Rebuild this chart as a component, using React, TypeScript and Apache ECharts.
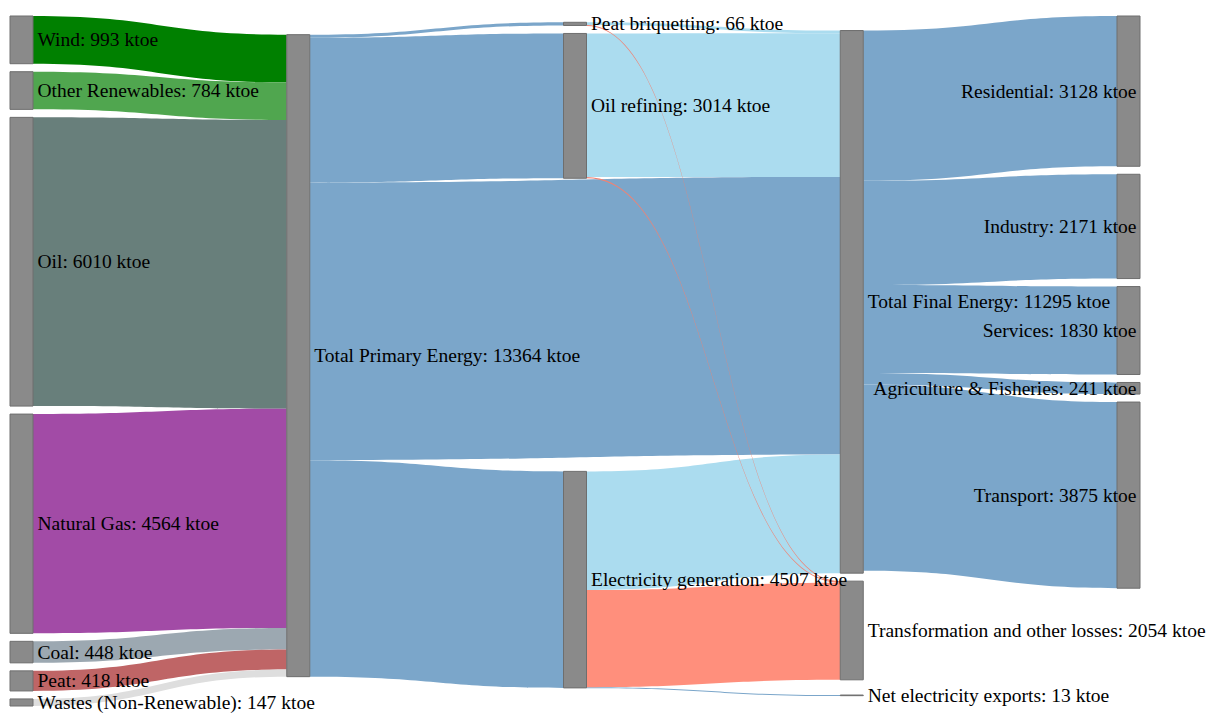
import React, { useEffect, useRef } from "react";
import * as echarts from "echarts";

// ---------------- data ----------------
const nodeNames = [
  "Wind",
  "Other Renewables",
  "Oil",
  "Natural Gas",
  "Coal",
  "Peat",
  "Wastes (Non-Renewable)",
  "Total Primary Energy",
  "Peat briquetting",
  "Oil refining",
  "Electricity generation",
  "Total Final Energy",
  "Transformation and other losses",
  "Net electricity exports",
  "Residential",
  "Industry",
  "Services",
  "Agriculture & Fisheries",
  "Transport",
];
const nodeValues = [993, 784, 6010, 4564, 448, 418, 147, 13364, 66, 3014, 4507, 11295, 2054, 13, 3128, 2171, 1830, 241, 3875];

const linkSources = [
  "Wind", "Other Renewables", "Oil", "Natural Gas", "Coal", "Peat", "Wastes (Non-Renewable)",
  "Total Primary Energy", "Total Primary Energy", "Total Primary Energy", "Total Primary Energy",
  "Peat briquetting", "Oil refining", "Electricity generation", "Electricity generation",
  "Total Final Energy", "Total Final Energy", "Total Final Energy", "Total Final Energy", "Total Final Energy",
  "Electricity generation", "Peat briquetting", "Oil refining",
];
const linkTargets = [
  "Total Primary Energy", "Total Primary Energy", "Total Primary Energy", "Total Primary Energy",
  "Total Primary Energy", "Total Primary Energy", "Total Primary Energy",
  "Peat briquetting", "Oil refining", "Total Final Energy", "Electricity generation",
  "Total Final Energy", "Total Final Energy", "Total Final Energy", "Net electricity exports",
  "Residential", "Industry", "Services", "Agriculture & Fisheries", "Transport",
  "Transformation and other losses", "Transformation and other losses", "Transformation and other losses",
];
const linkValues = [
  993, 784, 6010, 4564, 448, 418, 147,
  66, 3014, 5777, 4507,
  57, 2990, 2471, 13,
  3128, 2171, 1830, 241, 3875,
  2021, 9, 24,
];
const unit = "ktoe";

// ---------------- styles ----------------
const fuelColors: Record<string, string> = {
  Wind: "#008000",
  "Other Renewables": "#50a64f",
  Oil: "#687f7b",
  "Natural Gas": "#a24ba6",
  Coal: "#9ca8b1",
  Peat: "#bf6566",
  "Wastes (Non-Renewable)": "#dedede",
};
const steelBlue = "#7ba6ca";
const lightBlue = "#abdcef";
const lossRed = "#ff8f7c";
const thinLossRed = "#f08273";
const transformNodes = ["Peat briquetting", "Oil refining", "Electricity generation"];

function linkColor(s: string, t: string, v: number): string {
  if (fuelColors[s]) return fuelColors[s];
  if (t === "Transformation and other losses") return v < 100 ? thinLossRed : lossRed;
  if (transformNodes.includes(s) && t === "Total Final Energy") return lightBlue;
  return steelBlue;
}

// layout frame
const X0 = 10;
const X1 = 1140;
const Y0 = 16;
const Y1 = 706;
const NODE_W = 23;
const PAD = 8;
const ITER = 32;

// ---------------- sankey relaxation (node order kept, bands ordered by neighbour centre) ----------------
interface LNode {
  name: string; index: number; value: number; depth: number; layer: number;
  y0: number; y1: number; sourceLinks: LLink[]; targetLinks: LLink[];
}
interface LLink { source: LNode; target: LNode; value: number; width: number; index: number; }

function computeLayout() {
  const nodes: LNode[] = nodeNames.map((name, index) => ({
    name, index, value: 0, depth: 0, layer: 0, y0: NaN, y1: NaN, sourceLinks: [], targetLinks: [],
  }));
  const byName = new Map<string, LNode>();
  nodes.forEach((n) => byName.set(n.name, n));
  linkSources.forEach((s, index) => {
    const source = byName.get(s)!;
    const target = byName.get(linkTargets[index])!;
    const l: LLink = { source, target, value: linkValues[index], width: 0, index };
    source.sourceLinks.push(l);
    target.targetLinks.push(l);
  });
  const sumL = (ls: LLink[]) => ls.reduce((a, l) => a + l.value, 0);
  nodes.forEach((n) => {
    n.value = Math.max(sumL(n.sourceLinks), sumL(n.targetLinks), nodeValues[n.index]);
  });
  let current = new Set<LNode>(nodes);
  let x = 0;
  while (current.size && x <= nodes.length) {
    const next = new Set<LNode>();
    current.forEach((n) => {
      n.depth = x;
      n.sourceLinks.forEach((l) => next.add(l.target));
    });
    x++;
    current = next;
  }
  const nLayers = Math.max(...nodes.map((n) => n.depth)) + 1;
  const columns: LNode[][] = Array.from({ length: nLayers }, () => [] as LNode[]);
  nodes.forEach((n) => {
    n.layer = n.depth;
    columns[n.layer].push(n);
  });
  const py = Math.min(PAD, (Y1 - Y0) / (Math.max(...columns.map((c) => c.length)) - 1));
  const ky = Math.min(
    ...columns.map((c) => (Y1 - Y0 - (c.length - 1) * py) / c.reduce((a, n) => a + n.value, 0))
  );
  const mid = (n: LNode) => (n.y0 + n.y1) / 2;
  const ascSrc = (a: LLink, b: LLink) => mid(a.source) - mid(b.source) || a.index - b.index;
  const ascTgt = (a: LLink, b: LLink) => mid(a.target) - mid(b.target) || a.index - b.index;

  for (const col of columns) {
    let y = Y0;
    for (const n of col) {
      n.y0 = y;
      n.y1 = y + n.value * ky;
      y = n.y1 + py;
      n.sourceLinks.forEach((l) => (l.width = l.value * ky));
    }
    y = (Y1 - y + py) / (col.length + 1);
    col.forEach((n, i) => {
      n.y0 += y * (i + 1);
      n.y1 += y * (i + 1);
    });
  }
  const reorderAll = () => {
    nodes.forEach((n) => {
      n.sourceLinks.sort(ascTgt);
      n.targetLinks.sort(ascSrc);
    });
  };
  reorderAll();
  const targetTop = (source: LNode, target: LNode) => {
    let y = source.y0 - ((source.sourceLinks.length - 1) * py) / 2;
    for (const l of source.sourceLinks) {
      if (l.target === target) break;
      y += l.width + py;
    }
    for (const l of target.targetLinks) {
      if (l.source === source) break;
      y -= l.width;
    }
    return y;
  };
  const sourceTop = (source: LNode, target: LNode) => {
    let y = target.y0 - ((target.targetLinks.length - 1) * py) / 2;
    for (const l of target.targetLinks) {
      if (l.source === source) break;
      y += l.width + py;
    }
    for (const l of source.sourceLinks) {
      if (l.target === target) break;
      y -= l.width;
    }
    return y;
  };
  const topToBottom = (col: LNode[], y: number, i: number, alpha: number) => {
    for (; i < col.length; ++i) {
      const n = col[i];
      const dy = (y - n.y0) * alpha;
      if (dy > 1e-6) { n.y0 += dy; n.y1 += dy; }
      y = n.y1 + py;
    }
  };
  const bottomToTop = (col: LNode[], y: number, i: number, alpha: number) => {
    for (; i >= 0; --i) {
      const n = col[i];
      const dy = (n.y1 - y) * alpha;
      if (dy > 1e-6) { n.y0 -= dy; n.y1 -= dy; }
      y = n.y0 - py;
    }
  };
  const resolveCollisions = (col: LNode[], alpha: number) => {
    const i = col.length >> 1;
    const subject = col[i];
    bottomToTop(col, subject.y0 - py, i - 1, alpha);
    topToBottom(col, subject.y1 + py, i + 1, alpha);
    bottomToTop(col, Y1, col.length - 1, alpha);
    topToBottom(col, Y0, 0, alpha);
  };
  const relaxLeftToRight = (alpha: number, beta: number) => {
    for (let i = 1; i < columns.length; i++) {
      const col = columns[i];
      for (const target of col) {
        let y = 0;
        let w = 0;
        for (const l of target.targetLinks) {
          const v = l.value * (target.layer - l.source.layer);
          y += targetTop(l.source, target) * v;
          w += v;
        }
        if (!(w > 0)) continue;
        const dy = (y / w - target.y0) * alpha;
        target.y0 += dy;
        target.y1 += dy;
      }
      resolveCollisions(col, beta);
      reorderAll();
    }
  };
  const relaxRightToLeft = (alpha: number, beta: number) => {
    for (let i = columns.length - 2; i >= 0; i--) {
      const col = columns[i];
      for (const source of col) {
        let y = 0;
        let w = 0;
        for (const l of source.sourceLinks) {
          const v = l.value * (l.target.layer - source.layer);
          y += sourceTop(source, l.target) * v;
          w += v;
        }
        if (!(w > 0)) continue;
        const dy = (y / w - source.y0) * alpha;
        source.y0 += dy;
        source.y1 += dy;
      }
      resolveCollisions(col, beta);
      reorderAll();
    }
  };
  for (let i = 0; i < ITER; i++) {
    const alpha = Math.pow(0.99, i);
    const beta = Math.max(1 - alpha, (i + 1) / ITER);
    relaxRightToLeft(alpha, beta);
    relaxLeftToRight(alpha, beta);
  }
  const kx = (X1 - X0 - NODE_W) / (nLayers - 1);
  const total = nodes.reduce((a, n) => a + n.value, 0);
  return { nodes, ky, kx, nLayers, total, mid };
}

export default function App() {
  const ref = useRef<HTMLDivElement>(null);
  useEffect(() => {
    if (!ref.current) return;
    const chart = echarts.init(ref.current, undefined, { renderer: "svg" });
    const font = "'Liberation Serif', 'Times New Roman', serif";
    const lay = computeLayout();
    const width = X1 - X0;
    // ECharts stacks the bands of every node by the order of its neighbours;
    // one stacking column ordered by the relaxed centres keeps that order consistent.
    const H = lay.total * lay.ky;
    const ordered = lay.nodes.slice().sort((a, b) => lay.mid(a) - lay.mid(b) || a.index - b.index);
    const data = ordered.map((n) => ({
      name: n.name,
      value: nodeValues[n.index],
      depth: 0,
      localX: (n.layer * lay.kx) / width,
      localY: n.y0 / H,
      label:
        n.layer === lay.nLayers - 1
          ? { position: "insideRight", distance: 4 }
          : { position: "right", distance: 4 },
    }));
    const links = linkSources.map((s, i) => ({
      source: s,
      target: linkTargets[i],
      value: linkValues[i],
      lineStyle: {
        color: linkColor(s, linkTargets[i], linkValues[i]),
        opacity: 1,
      },
    }));
    chart.setOption({
      animation: false,
      backgroundColor: "#ffffff",
      series: [
        {
          type: "sankey",
          left: X0,
          top: 0,
          width,
          height: H,
          nodeWidth: NODE_W,
          nodeGap: 0,
          nodeAlign: "left",
          layoutIterations: 0,
          draggable: false,
          emphasis: { disabled: true },
          itemStyle: { color: "#8a8a8a", borderColor: "#6e6e6e", borderWidth: 1 },
          lineStyle: { curveness: 0.5 },
          label: {
            color: "#000",
            fontFamily: font,
            fontSize: 19.5,
            formatter: (p: any) => `${p.name}: ${p.value} ${unit}`,
          },
          data,
          links,
        },
      ],
    });
    return () => chart.dispose();
  }, []);
  return (
    <div
      ref={ref}
      style={{ position: "absolute", left: 0, top: 0, width: 1219, height: 719 }}
    />
  );
}
